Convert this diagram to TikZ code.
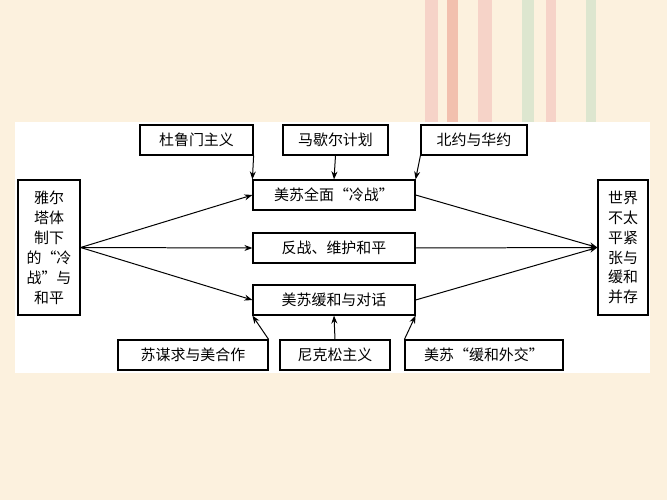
\documentclass[tikz,border=0pt]{standalone}
\usepackage{fontspec}
\setmainfont{Noto Sans CJK SC}
\usetikzlibrary{positioning,arrows.meta}
\definecolor{cream}{HTML}{FCF1DE}
\definecolor{stripeA}{HTML}{F6D3C8}
\definecolor{stripeB}{HTML}{F2C0AE}
\definecolor{stripeC}{HTML}{DDE6CF}
\tikzset{
  box/.style={draw,line width=1.2pt,fill=white,minimum height=30bp,inner sep=2bp,font=\fontsize{15}{16}\selectfont},
  side/.style={draw,line width=1.2pt,fill=white,minimum height=135bp,align=center,inner sep=1bp,font=\fontsize{15}{20}\selectfont},
  link/.style={-{Stealth[length=8bp,width=6bp]},line width=1pt},
}
\begin{document}
\begin{tikzpicture}[x=1bp,y=-1bp]
\fill[cream] (0,0) rectangle (667,500);
\useasboundingbox (0,0) rectangle (667,500);
% stripes
\fill[stripeA] (425,0) rectangle (438,122);
\fill[stripeB] (447,0) rectangle (458,122);
\fill[stripeA] (478,0) rectangle (492,122);
\fill[stripeC] (522,0) rectangle (534,122);
\fill[stripeA] (546,0) rectangle (556,122);
\fill[stripeC] (586,0) rectangle (596,122);
\fill[white] (15,122) rectangle (650,373);
%%
\node (left) at (49,247.5) [side,minimum width=62bp] {雅尔\\塔体\\制下\\的“冷\\战”与\\和平};
\node (right) at (623,247.5) [side,minimum width=50bp] {世界\\不太\\平紧\\张与\\缓和\\并存};
\node (cold) at (334,195) [box,minimum width=162bp] {美苏全面“冷战”};
\node (peace) at (334,248) [box,minimum width=162bp] {反战、维护和平};
\node (relax) at (334,300) [box,minimum width=162bp] {美苏缓和与对话};
\node (truman) at (196.5,140) [box,minimum width=113bp] {杜鲁门主义};
\node (marshall) at (335.5,140) [box,minimum width=105bp] {马歇尔计划};
\node (nato) at (474,140) [box,minimum width=106bp] {北约与华约};
\node (soviet) at (193,355) [box,minimum width=150bp] {苏谋求与美合作};
\node (nixon) at (335,355) [box,minimum width=110bp] {尼克松主义};
\node (detente) at (484,355) [box,minimum width=158bp] {美苏“缓和外交”};
\draw [link] (left.east) -- (cold.west);
\draw [link] (left.east) -- (peace.west);
\draw [link] (left.east) -- (relax.west);
\draw [link] (cold.east) -- (right.west);
\draw [link] (peace.east) -- (right.west);
\draw [link] (relax.east) -- (right.west);
\draw [link] (truman.south east) -- (cold.north west);
\draw [link] (marshall.south) -- (cold.north);
\draw [link] (nato.south west) -- (cold.north east);
\draw [link] (soviet.north east) -- (relax.south west);
\draw [link] (nixon.north) -- (relax.south);
\draw [link] (detente.north west) -- (relax.south east);
%
\end{tikzpicture}
\end{document}
